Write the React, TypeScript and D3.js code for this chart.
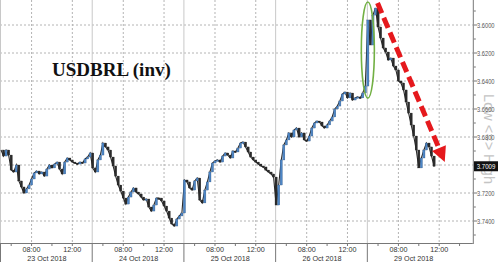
import React from "react";
import * as d3 from "d3";

const dayLabels = ["23 Oct 2018", "24 Oct 2018", "25 Oct 2018", "26 Oct 2018", "29 Oct 2018"];
const hourLabels = ["08:00", "12:00"];
const majorHours = [8, 12];
const minorHours = [6, 10, 14];
const sessionStart = 5;
const sessionLength = 9;
const stepHours = 0.25;

const oct23 = [3.6893, 3.6936, 3.6893, 3.6929, 3.7036, 3.705, 3.7, 3.7114, 3.7157, 3.72, 3.7171, 3.7143, 3.71, 3.7057, 3.7043, 3.7064, 3.705, 3.7079, 3.7029, 3.7, 3.7021, 3.6993, 3.6979, 3.7029, 3.7064, 3.6979, 3.695, 3.6964, 3.6979, 3.6986, 3.6993, 3.6979, 3.6986, 3.6957, 3.6943, 3.6914];
const oct24 = [3.7021, 3.705, 3.6964, 3.6929, 3.6843, 3.6871, 3.6893, 3.6943, 3.7007, 3.7079, 3.7143, 3.7186, 3.7236, 3.7279, 3.7229, 3.7193, 3.7164, 3.7193, 3.7207, 3.7229, 3.725, 3.7243, 3.73, 3.7329, 3.7286, 3.7236, 3.7236, 3.7257, 3.7293, 3.7329, 3.7379, 3.7421, 3.7436, 3.7386, 3.7364, 3.7343];
const oct25 = [3.7107, 3.7121, 3.7164, 3.7179, 3.7114, 3.7093, 3.725, 3.7271, 3.7179, 3.7121, 3.705, 3.6986, 3.6971, 3.6964, 3.6979, 3.6936, 3.6914, 3.6929, 3.695, 3.69, 3.6907, 3.6879, 3.6843, 3.6836, 3.6871, 3.6907, 3.6943, 3.6964, 3.6979, 3.6993, 3.7007, 3.7014, 3.7036, 3.705, 3.7064, 3.7086];
const oct26 = [3.7286, 3.7143, 3.6964, 3.6857, 3.6821, 3.6771, 3.68, 3.675, 3.6736, 3.68, 3.6771, 3.6821, 3.6829, 3.6793, 3.6736, 3.67, 3.6686, 3.6693, 3.6721, 3.6736, 3.6714, 3.6686, 3.6657, 3.66, 3.6579, 3.6543, 3.6493, 3.6479, 3.6521, 3.6486, 3.6536, 3.6521, 3.6514, 3.6521, 3.6486, 3.6436];
const oct29 = [3.5964, 3.6143, 3.5929, 3.5879, 3.6014, 3.6093, 3.6164, 3.6193, 3.625, 3.6236, 3.6293, 3.6321, 3.64, 3.6414, 3.6464, 3.655, 3.6629, 3.6714, 3.6793, 3.6893, 3.7021, 3.695, 3.6893, 3.6843, 3.6871, 3.6936, 3.7009];
const seriesByDay = [oct23, oct24, oct25, oct26, oct29];

const yTicks = [3.6, 3.62, 3.64, 3.66, 3.68, 3.7, 3.72, 3.74];
const yMinorTicks = [3.59, 3.61, 3.63, 3.65, 3.67, 3.69, 3.71, 3.73, 3.75];
const lastValue = 3.7009;

// annotations in data coordinates: [session hour index, value]
const ellipseCenter = [36.0, 3.6179];
const ellipseHalfHeight = 0.0343;
const ellipseHalfWidthHours = 0.64;
const arrowStart = [36.95, 3.5843];
const arrowTip = [43.55, 3.6978];

const W = 500;
const H = 265;
const plotTop = 0;
const plotBottom = 243;
const plotLeft = 1;
const plotRight = 472.8;

export default function App() {
  const x = d3.scaleLinear().domain([0, 46.3]).range([plotLeft, plotRight]);
  const y = d3.scaleLinear().domain([3.6, 3.74]).range([25, 221]);

  const points: { h: number; v: number }[] = [];
  seriesByDay.forEach((arr, d) => {
    arr.forEach((v, i) => points.push({ h: d * sessionLength + i * stepHours, v }));
  });

  const line = d3
    .line<{ h: number; v: number }>()
    .x((p) => x(p.h))
    .y((p) => y(p.v));

  const candles = points.slice(1).map((p, k) => {
    const open = points[k].v;
    const close = p.v;
    const top = Math.min(y(open), y(close));
    const bottom = Math.max(y(open), y(close));
    const up = close < open;
    return { cx: x(p.h), top, h: Math.max(1.5, bottom - top), up };
  });

  const fontSans = "'Liberation Sans', Arial, sans-serif";

  // arrow geometry
  const sx = x(arrowStart[0]);
  const sy = y(arrowStart[1]);
  const tx = x(arrowTip[0]);
  const ty = y(arrowTip[1]);
  const len = Math.hypot(tx - sx, ty - sy);
  const ux = (tx - sx) / len;
  const uy = (ty - sy) / len;
  const headLen = 15;
  const headHalf = 7.5;
  const bx = tx - ux * headLen;
  const by = ty - uy * headLen;
  const head = [
    [tx, ty],
    [bx - uy * headHalf, by + ux * headHalf],
    [bx + uy * headHalf, by - ux * headHalf],
  ];

  return (
    <svg width={W} height={H} style={{ position: "absolute", left: 0, top: 0, background: "#fff" }}>
      {/* horizontal gridlines */}
      {yTicks.map((t) => (
        <line key={"hg" + t} x1={0} x2={plotRight} y1={y(t)} y2={y(t)} stroke="#b4b4b4" strokeWidth={1} strokeDasharray="2,2" />
      ))}
      {/* vertical gridlines */}
      {dayLabels.map((_, d) =>
        majorHours.map((hr) => (
          <line key={"vg" + d + hr} x1={x(d * sessionLength + hr - sessionStart)} x2={x(d * sessionLength + hr - sessionStart)} y1={plotTop} y2={plotBottom} stroke="#b4b4b4" strokeWidth={1} strokeDasharray="2,2" />
        ))
      )}
      {/* day separators */}
      {dayLabels.map((_, d) => (
        <g key={"sep" + d}>
          <line x1={x(d * sessionLength) - 0.5} x2={x(d * sessionLength) - 0.5} y1={plotTop} y2={plotBottom} stroke="#c8c8c8" strokeWidth={1} />
          <line x1={x(d * sessionLength) - 0.5} x2={x(d * sessionLength) - 0.5} y1={plotBottom} y2={262} stroke="#777" strokeWidth={1} />
        </g>
      ))}

      {/* title */}
      <text x={52} y={76} fontFamily="'Liberation Serif', 'Times New Roman', serif" fontWeight="bold" fontSize={19} fill="#111">
        USDBRL (inv)
      </text>

      {/* Low <=> High */}
      <text transform={`translate(484,139) rotate(90)`} textAnchor="middle" fontFamily={fontSans} fontSize={14.5} fill="#c4c4c4">
        {"Low <=> High"}
      </text>

      {/* series */}
      <path d={line(points) || ""} fill="none" stroke="#2a2a2a" strokeWidth={1.1} />
      {candles.map((c, i) => (
        <rect key={"c" + i} x={c.cx - 1.1} y={c.top} width={2.2} height={c.h} fill={c.up ? "#4d86c6" : "#2b2b2b"} stroke={c.up ? "#2c4f7a" : "#1a1a1a"} strokeWidth={0.3} />
      ))}

      {/* green ellipse */}
      <ellipse
        cx={x(ellipseCenter[0])}
        cy={y(ellipseCenter[1])}
        rx={x(ellipseHalfWidthHours) - x(0)}
        ry={y(ellipseCenter[1] + ellipseHalfHeight) - y(ellipseCenter[1])}
        fill="none"
        stroke="#72b043"
        strokeWidth={1.6}
      />

      {/* red dashed arrow */}
      <line x1={sx} y1={sy} x2={bx + ux * 1} y2={by + uy * 1} stroke="#e5191d" strokeWidth={5} strokeDasharray="11,5" />
      <polygon points={head.map((p) => p.join(",")).join(" ")} fill="#e5191d" />

      {/* axes */}
      <line x1={0} x2={plotRight} y1={plotBottom + 0.5} y2={plotBottom + 0.5} stroke="#777" strokeWidth={1} />
      <line x1={plotRight + 0.5} x2={plotRight + 0.5} y1={0} y2={plotBottom + 1} stroke="#777" strokeWidth={1} />

      {/* x ticks */}
      {dayLabels.map((_, d) =>
        [...majorHours, ...minorHours]
          .filter((hr) => d * sessionLength + hr - sessionStart < 46.3 && !(hr === 14 && d < 4))
          .map((hr) => (
            <line key={"xt" + d + hr} x1={x(d * sessionLength + hr - sessionStart)} x2={x(d * sessionLength + hr - sessionStart)} y1={plotBottom} y2={plotBottom + 3} stroke="#777" strokeWidth={1} />
          ))
      )}
      {dayLabels.map((lab, d) => (
        <g key={"xl" + d} fontFamily={fontSans} fontSize={7.2} fill="#333" textAnchor="middle">
          {majorHours.map((hr, j) => (
            <text key={hr} x={x(d * sessionLength + hr - sessionStart)} y={252}>
              {hourLabels[j]}
            </text>
          ))}
          <text x={x(d * sessionLength + sessionLength / 2)} y={260.5}>
            {lab}
          </text>
        </g>
      ))}

      {/* y ticks */}
      {yMinorTicks.map((t) => (
        <line key={"ym" + t} x1={plotRight + 1} x2={plotRight + 3} y1={y(t)} y2={y(t)} stroke="#777" strokeWidth={1} />
      ))}
      {yTicks.map((t) => (
        <g key={"yt" + t}>
          <line x1={plotRight + 1} x2={plotRight + 4.5} y1={y(t)} y2={y(t)} stroke="#777" strokeWidth={1} />
          <text x={477} y={y(t) + 2.6} fontFamily={fontSans} fontSize={7.2} fill="#555" textLength={17.5} lengthAdjust="spacingAndGlyphs">
            {d3.format(".4f")(t)}
          </text>
        </g>
      ))}

      {/* last value */}
      <rect x={474} y={y(lastValue) - 5} width={24} height={10} fill="#111" />
      <text x={486} y={y(lastValue) + 2.6} textAnchor="middle" fontFamily={fontSans} fontSize={7.2} fill="#fff" textLength={18.5} lengthAdjust="spacingAndGlyphs">
        {d3.format(".4f")(lastValue)}
      </text>
    </svg>
  );
}
